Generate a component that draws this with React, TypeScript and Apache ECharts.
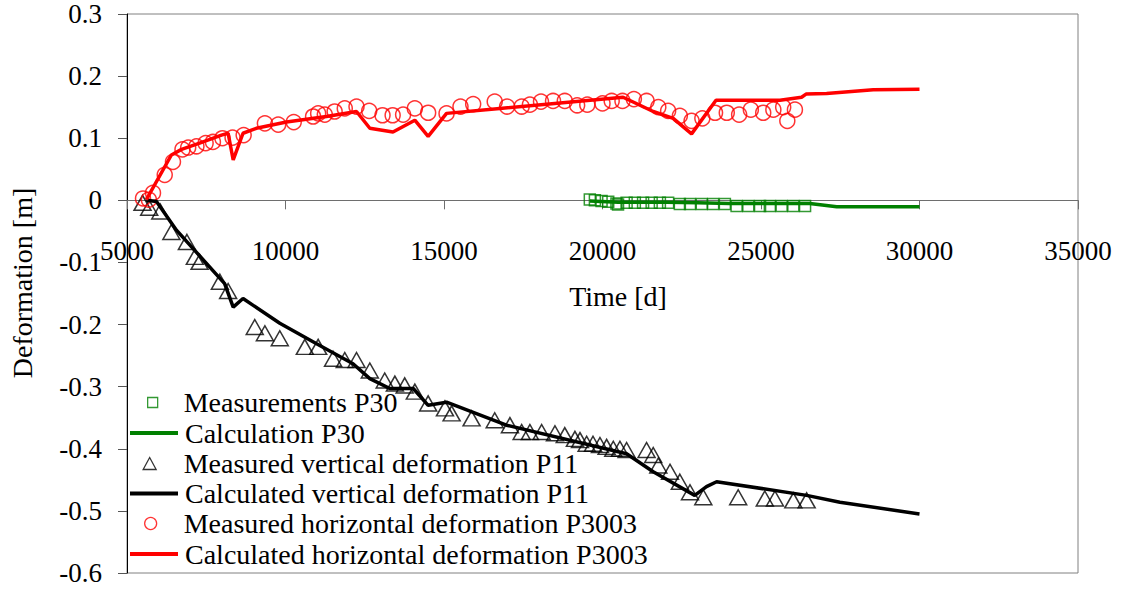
import React, { useEffect, useRef } from "react";
import * as echarts from "echarts";

const xTicks = { min: 5000, max: 35000, interval: 5000 };
const yTicks = { min: -0.6, max: 0.3, interval: 0.1 };

const seriesNames = [
  "Measurements P30",
  "Calculation P30",
  "Measured vertical deformation P11",
  "Calculated vertical deformation P11",
  "Measured horizontal deformation P3003",
  "Calculated horizontal deformation P3003",
];

const seriesColors = ["#008000", "#008000", "#000000", "#000000", "#ff0000", "#ff0000"];

const p30Measured: [number, number][] = [
  [19600, 0.0015], [19760, 0.0], [19970, -0.001], [20180, -0.0024], [20440, -0.005], [20490, -0.0066],
  [20760, -0.004], [21020, -0.004], [21280, -0.004], [21550, -0.004], [21810, -0.004], [22070, -0.004],
  [22440, -0.006], [22760, -0.006], [23130, -0.006], [23490, -0.006], [23860, -0.006], [24230, -0.009],
  [24600, -0.009], [24970, -0.009], [25280, -0.009], [25650, -0.009], [26020, -0.009], [26390, -0.009],
];

const p30Calculated: [number, number][] = [
  [19600, -0.001], [20500, -0.003], [22000, -0.003], [23000, -0.004], [24000, -0.005],
  [26540, -0.005], [27390, -0.0105], [30000, -0.0105],
];

const p11Measured: [number, number][] = [
  [5490, -0.004], [5700, -0.012], [6050, -0.018], [6400, -0.051], [6890, -0.067], [7140, -0.091],
  [7290, -0.099], [7930, -0.131], [8190, -0.146], [9030, -0.204], [9350, -0.214], [9820, -0.222],
  [10610, -0.236], [11030, -0.236], [11500, -0.255], [11870, -0.257], [12240, -0.257], [12660, -0.274],
  [13130, -0.29], [13450, -0.295], [13760, -0.298], [14080, -0.308], [14500, -0.327], [15030, -0.335],
  [15240, -0.343], [15870, -0.351], [16600, -0.354], [17080, -0.362], [17450, -0.373], [17710, -0.373],
  [18080, -0.373], [18500, -0.375], [18810, -0.378], [19130, -0.384], [19290, -0.386], [19500, -0.392],
  [19700, -0.392], [19920, -0.394], [20130, -0.397], [20340, -0.4], [20550, -0.4], [20760, -0.402],
  [21390, -0.402], [21600, -0.41], [21760, -0.427], [22130, -0.437], [22440, -0.453], [22760, -0.47],
  [23180, -0.478], [24280, -0.478], [25120, -0.48], [25440, -0.48], [26020, -0.483], [26440, -0.483],
];

const p11Calculated: [number, number][] = [
  [5610, 0.0], [5930, -0.002], [6560, -0.048], [8080, -0.134], [8350, -0.172], [8660, -0.158],
  [9820, -0.198], [10980, -0.231], [12130, -0.263], [12660, -0.287], [13290, -0.303], [14030, -0.303],
  [14500, -0.33], [15080, -0.325], [16970, -0.362], [20760, -0.408], [21600, -0.437], [22910, -0.475],
  [23280, -0.461], [23600, -0.453], [26440, -0.475], [27490, -0.486], [30000, -0.505],
];

const p3003Measured: [number, number][] = [
  [5505, 0.003], [5690, 0.001], [5820, 0.012], [6190, 0.041], [6450, 0.062], [6750, 0.082],
  [6930, 0.085], [7190, 0.087], [7480, 0.092], [7710, 0.094], [8010, 0.1], [8330, 0.101],
  [8680, 0.105], [9350, 0.124], [9770, 0.122], [10260, 0.126], [10870, 0.135], [11030, 0.14],
  [11240, 0.138], [11550, 0.143], [11870, 0.148], [12240, 0.151], [12640, 0.144], [13060, 0.137],
  [13380, 0.137], [13710, 0.138], [14080, 0.148], [14500, 0.141], [15080, 0.14], [15520, 0.151],
  [15920, 0.155], [16600, 0.159], [16990, 0.151], [17450, 0.151], [17710, 0.154], [18060, 0.159],
  [18440, 0.16], [18810, 0.16], [19200, 0.153], [19520, 0.154], [20000, 0.156], [20290, 0.16],
  [20630, 0.16], [20990, 0.163], [21390, 0.16], [21760, 0.15], [22070, 0.144], [22440, 0.136],
  [22810, 0.128], [23150, 0.132], [23550, 0.141], [23920, 0.141], [24310, 0.138], [24680, 0.146],
  [25070, 0.141], [25390, 0.146], [25700, 0.15], [25830, 0.128], [26070, 0.146],
];

const p3003Calculated: [number, number][] = [
  [5610, 0.001], [6400, 0.073], [6720, 0.082], [7290, 0.092], [7980, 0.105], [8190, 0.108],
  [8350, 0.065], [8660, 0.108], [9080, 0.116], [10030, 0.126], [11290, 0.135], [12240, 0.143],
  [12660, 0.116], [13390, 0.11], [14080, 0.129], [14500, 0.103], [15080, 0.14], [16760, 0.148],
  [20650, 0.166], [21600, 0.143], [22230, 0.132], [22810, 0.107], [23580, 0.161], [25600, 0.161],
  [26280, 0.166], [26420, 0.171], [27070, 0.172], [28540, 0.178], [30000, 0.179],
];

const FONT = "Liberation Serif";
const legendRowCenters = [402.5, 433, 463.5, 493.5, 523.5, 554];

export default function App() {
  const ref = useRef<HTMLDivElement>(null);
  useEffect(() => {
    if (!ref.current) return;
    const chart = echarts.init(ref.current, null, { renderer: "svg", width: 1121, height: 590 });
    const plotTop = 14;
    const plotHeight = 559;
    // height of the upper part of the plot (from max down to the zero line)
    const upperHeight = (plotHeight * yTicks.max) / (yTicks.max - yTicks.min);
    // legend layout per row: [left, iconWidth, iconHeight, textPadLeft]
    const legendLayout: [number, number, number, number][] = [
      [147, 10, 10, 21],
      [128, 48, 8, 2],
      [142.5, 13, 12, 22.5],
      [128, 48, 8, 2],
      [144, 12, 12, 22],
      [128, 48, 8, 2],
    ];
    const isLine = [false, true, false, true, false, true];
    const option: any = {
      animation: false,
      backgroundColor: "#ffffff",
      textStyle: { fontFamily: FONT },
      grid: [
        {
          left: 127,
          right: 43,
          top: plotTop,
          height: plotHeight,
          show: true,
          borderColor: "#808080",
          borderWidth: 1,
          containLabel: false,
          outerBoundsMode: "none",
        },
        {
          left: 127,
          right: 43,
          top: plotTop,
          height: upperHeight,
          show: false,
          containLabel: false,
          outerBoundsMode: "none",
        },
      ],
      xAxis: [
        {
          type: "value",
          gridIndex: 0,
          min: xTicks.min,
          max: xTicks.max,
          interval: xTicks.interval,
          axisLine: { show: false },
          axisTick: { show: false },
          axisLabel: { show: false },
          splitLine: { show: false },
        },
        {
          type: "value",
          gridIndex: 1,
          position: "bottom",
          min: xTicks.min,
          max: xTicks.max,
          interval: xTicks.interval,
          axisLine: { show: true, onZero: false, lineStyle: { color: "#6e6e6e", width: 1 } },
          axisTick: { show: true, inside: false, length: 9, lineStyle: { color: "#6e6e6e" } },
          axisLabel: {
            margin: 37,
            fontFamily: FONT,
            fontSize: 27,
            color: "#000",
            showMinLabel: true,
            showMaxLabel: true,
            hideOverlap: false,
            formatter: (v: number) => String(v),
          },
          splitLine: { show: false },
        },
      ],
      yAxis: [
        {
          type: "value",
          gridIndex: 0,
          min: yTicks.min,
          max: yTicks.max,
          interval: yTicks.interval,
          axisLine: { onZero: false, lineStyle: { color: "#000", width: 1 } },
          axisTick: { show: true, inside: false, length: 9, lineStyle: { color: "#555" } },
          axisLabel: {
            margin: 25,
            fontFamily: FONT,
            fontSize: 27,
            color: "#000",
            formatter: (v: number) => String(Math.round(v * 10) / 10),
          },
          splitLine: { show: false },
        },
        {
          type: "value",
          gridIndex: 1,
          min: 0,
          max: yTicks.max,
          show: false,
        },
      ],
      legend: seriesNames.map((name, i) => {
        const l: any = {
          data: [name],
          left: legendLayout[i][0],
          top: legendRowCenters[i] - 15,
          orient: "vertical",
          padding: 0,
          itemWidth: legendLayout[i][1],
          itemHeight: legendLayout[i][2],
          itemGap: 0,
          selectedMode: false,
          textStyle: {
            fontFamily: FONT,
            fontSize: 28,
            color: "#000",
            lineHeight: 30,
            padding: [0, 0, 0, legendLayout[i][3]],
          },
        };
        if (isLine[i]) {
          l.itemStyle = { opacity: 0 };
          l.lineStyle = { width: 4 };
        } else {
          l.itemStyle = { color: "rgba(255,255,255,0)", borderColor: seriesColors[i], borderWidth: 1.3 };
        }
        return l;
      }),
      graphic: [
        {
          type: "text",
          x: 618,
          y: 296,
          style: { text: "Time [d]", font: `28px "${FONT}"`, fill: "#000", align: "center", verticalAlign: "middle" },
        },
        {
          type: "text",
          x: 22,
          y: 283,
          rotation: Math.PI / 2,
          style: { text: "Deformation [m]", font: `28px "${FONT}"`, fill: "#000", align: "center", verticalAlign: "middle" },
        },
      ],
      series: [
        {
          name: seriesNames[0],
          type: "scatter",
          data: p30Measured,
          symbol: "rect",
          symbolSize: 11,
          itemStyle: { color: "rgba(0,0,0,0)", borderColor: seriesColors[0], borderWidth: 1.5 },
        },
        {
          name: seriesNames[1],
          type: "line",
          data: p30Calculated,
          symbol: "none",
          showSymbol: false,
          lineStyle: { color: seriesColors[1], width: 3.5 },
          itemStyle: { color: seriesColors[1] },
        },
        {
          name: seriesNames[2],
          type: "scatter",
          data: p11Measured,
          symbol: "triangle",
          symbolSize: [17, 15],
          itemStyle: { color: "rgba(0,0,0,0)", borderColor: seriesColors[2], borderWidth: 1.5 },
        },
        {
          name: seriesNames[3],
          type: "line",
          data: p11Calculated,
          symbol: "none",
          showSymbol: false,
          lineStyle: { color: seriesColors[3], width: 3.5 },
          itemStyle: { color: seriesColors[3] },
        },
        {
          name: seriesNames[4],
          type: "scatter",
          data: p3003Measured,
          symbol: "circle",
          symbolSize: 15,
          itemStyle: { color: "rgba(0,0,0,0)", borderColor: seriesColors[4], borderWidth: 1.5 },
        },
        {
          name: seriesNames[5],
          type: "line",
          data: p3003Calculated,
          symbol: "none",
          showSymbol: false,
          lineStyle: { color: seriesColors[5], width: 3.5 },
          itemStyle: { color: seriesColors[5] },
        },
      ],
    };
    chart.setOption(option);
    return () => chart.dispose();
  }, []);
  return (
    <div
      ref={ref}
      style={{ position: "absolute", left: 0, top: 0, width: 1121, height: 590, background: "#fff" }}
    />
  );
}
